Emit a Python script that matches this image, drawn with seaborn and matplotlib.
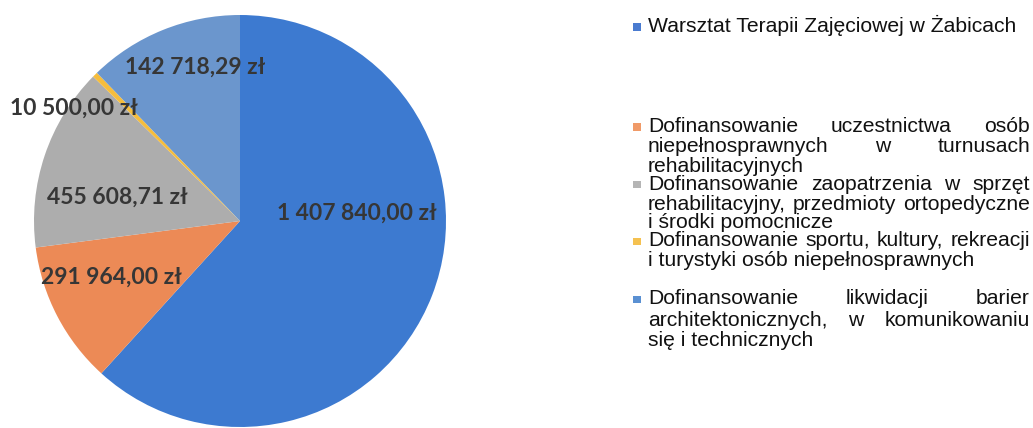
import numpy as np
import matplotlib
matplotlib.use("Agg")
import matplotlib.pyplot as plt
from matplotlib.patches import Rectangle
import seaborn as sns

# dane
categories = [
    "Warsztat Terapii Zajęciowej w Żabicach",
    "Dofinansowanie uczestnictwa osób\nniepełnosprawnych w turnusach\nrehabilitacyjnych",
    "Dofinansowanie zaopatrzenia w sprzęt\nrehabilitacyjny, przedmioty ortopedyczne\ni środki pomocnicze",
    "Dofinansowanie sportu, kultury, rekreacji\ni turystyki osób niepełnosprawnych",
    "Dofinansowanie likwidacji barier\narchitektonicznych, w komunikowaniu\nsię i technicznych",
]
values = [1407840.00, 291964.00, 455608.71, 10500.00, 142718.29]
value_labels = ["1 407 840,00 zł", "291 964,00 zł", "455 608,71 zł", "10 500,00 zł", "142 718,29 zł"]
# wielkosc wycinkow (stopnie) - nie zgadza sie z kwotami
slice_deg = [222.3, 40.3, 51.9, 1.5, 44.0]

# wyglad
pie_colors = ["#3d7ad0", "#ec8a56", "#adadad", "#f5bd3d", "#6b96cd"]
legend_colors = ["#4a7bd0", "#f09a68", "#b5b5b5", "#f5c150", "#5a90d2"]
label_pos = [(0.568, 0.039), (-0.626, -0.272), (-0.595, 0.117), (-0.806, 0.549), (-0.218, 0.748)]
legend_y = [[27], [127, 147, 167], [184, 204, 223], [241, 261], [299, 320, 341]]

W, H = 1033, 428
sns.set_theme(style="white")
plt.rcParams["font.family"] = ["Liberation Sans", "DejaVu Sans"]

fig = plt.figure(figsize=(W / 100, H / 100), dpi=100)
fig.patch.set_facecolor("white")

# kolo
cx, cy, r = 240, 221, 206
ax = fig.add_axes([(cx - r) / W, (H - cy - r) / H, 2 * r / W, 2 * r / H])
ax.pie(slice_deg, colors=pie_colors, startangle=90, counterclock=False, radius=1,
       wedgeprops=dict(linewidth=0))
ax.set_xlim(-1, 1)
ax.set_ylim(-1, 1)
ax.set_aspect("equal")
ax.axis("off")

for txt, (px, py) in zip(value_labels, label_pos):
    ax.text(px, py, txt, ha="center", va="center", fontsize=16.5, fontweight="bold",
            family="Lato", color="#363636")

# legenda z wyjustowanym tekstem
renderer = fig.canvas.get_renderer()
fs = 15.2
x0, x1 = 648, 1030


def text_w(s):
    t = fig.text(0, 0, s, fontsize=fs)
    w = t.get_window_extent(renderer).width
    t.remove()
    return w


for cat, col, ys in zip(categories, legend_colors, legend_y):
    lines = cat.split("\n")
    fig.add_artist(Rectangle((633 / W, (H - ys[0] - 4) / H), 7.5 / W, 7.5 / H,
                             transform=fig.transFigure, color=col, lw=0))
    for i, (line, y) in enumerate(zip(lines, ys)):
        yf = (H - y - 5.5) / H
        words = line.split(" ")
        last = i == len(lines) - 1
        if last or len(words) == 1:
            fig.text(x0 / W, yf, line, fontsize=fs, va="baseline", color="#111111")
            continue
        widths = [text_w(wd) for wd in words]
        gap = (x1 - x0 - sum(widths)) / (len(words) - 1)
        x = x0
        for wd, w in zip(words, widths):
            fig.text(x / W, yf, wd, fontsize=fs, va="baseline", color="#111111")
            x += w + gap

fig.savefig("out.png", dpi=100, facecolor="white")
